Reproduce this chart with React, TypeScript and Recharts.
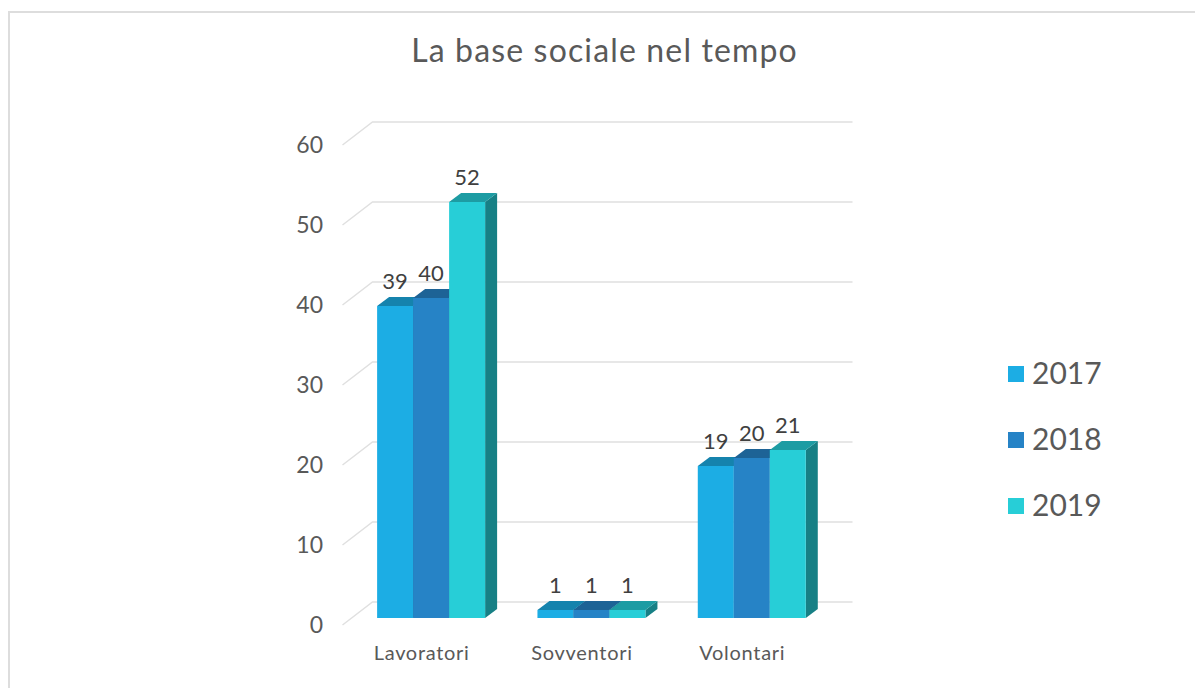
import { BarChart, Bar, XAxis, YAxis, CartesianGrid, Legend, LabelList } from 'recharts';

const categories = ['Lavoratori', 'Sovventori', 'Volontari'];
const values2017 = [39, 1, 19];
const values2018 = [40, 1, 20];
const values2019 = [52, 1, 21];
const yTicks = [0, 10, 20, 30, 40, 50, 60];

const data = categories.map((name, i) => ({
  name,
  '2017': values2017[i],
  '2018': values2018[i],
  '2019': values2019[i],
}));

const FONT = 'Lato, "Open Sans", sans-serif';
const DEPTH_X = 12;
const DEPTH_Y = 9;

const seriesStyles = [
  { key: '2017', front: '#1CADE4', top: '#1583AD', side: '#106A8C' },
  { key: '2018', front: '#2683C6', top: '#1D6396', side: '#164F78' },
  { key: '2019', front: '#27CED7', top: '#1D9CA3', side: '#178085' },
];

// box with a top and a right side, the way the spreadsheet draws 3D columns
function makeBox(style: { front: string; top: string; side: string }) {
  return function Box(props: any) {
    const { x, y, width, height } = props;
    const right = x + width;
    return (
      <g>
        <path
          d={`M${right},${y} L${right + DEPTH_X},${y - DEPTH_Y} L${right + DEPTH_X},${y + height - DEPTH_Y} L${right},${y + height} Z`}
          fill={style.side}
        />
        <path
          d={`M${x},${y} L${x + DEPTH_X},${y - DEPTH_Y} L${right + DEPTH_X},${y - DEPTH_Y} L${right},${y} Z`}
          fill={style.top}
        />
        <rect x={x} y={y} width={width} height={height} fill={style.front} />
      </g>
    );
  };
}

function GridLine(props: any) {
  const { x1, x2, y1 } = props;
  return (
    <path
      d={`M${x1 - 8},${y1 + 7} L${x1 + 22},${y1 - 16} L${x2 + 21},${y1 - 16}`}
      fill="none"
      stroke="#E0E0E0"
      strokeWidth={1.5}
    />
  );
}

function ValueLabel(props: any) {
  const { x, y, width, value } = props;
  return (
    <text x={x + width / 2} y={y - 17} textAnchor="middle" fontFamily={FONT} fontSize={22} fill="#404040">
      {value}
    </text>
  );
}

function YTick(props: any) {
  const { y, payload } = props;
  return (
    <text x={323} y={y + 15} textAnchor="end" fontFamily={FONT} fontSize={23} fill="#595959">
      {payload.value}
    </text>
  );
}

function XTick(props: any) {
  const { x, payload } = props;
  return (
    <text x={x - 9} y={660} textAnchor="middle" fontFamily={FONT} fontSize={20} letterSpacing={0.7} fill="#595959">
      {payload.value}
    </text>
  );
}

function LegendBox() {
  return (
    <div style={{ position: 'relative', width: 120, height: 170 }}>
      {seriesStyles.map((s, i) => (
        <div key={s.key} style={{ position: 'absolute', left: 0, top: i * 66, height: 40, display: 'flex', alignItems: 'center' }}>
          <span style={{ width: 16, height: 16, background: s.front, marginRight: 8 }} />
          <span style={{ fontFamily: FONT, fontSize: 30, color: '#595959', lineHeight: '36px', marginTop: -4 }}>{s.key}</span>
        </div>
      ))}
    </div>
  );
}

export default function App() {
  return (
    <div style={{ position: 'fixed', left: 0, top: 0, width: 1195, height: 688, background: '#fff', overflow: 'hidden' }}>
      <div
        style={{
          position: 'absolute',
          left: 8,
          top: 11,
          width: 1300,
          height: 800,
          border: '2px solid #DDDDDD',
        }}
      />
      <div
        style={{
          position: 'absolute',
          left: 0,
          top: 30,
          width: 1209,
          textAlign: 'center',
          fontFamily: FONT,
          fontSize: 32,
          letterSpacing: 1.15,
          color: '#595959',
        }}
      >
        La base sociale nel tempo
      </div>
      <BarChart
        width={1195}
        height={688}
        data={data}
        margin={{ top: 138, right: 243.5, bottom: 30, left: 290.5 }}
        barCategoryGap="16.6%"
        barGap={0}
        style={{ position: 'absolute', left: 0, top: 0 }}
      >
        <CartesianGrid vertical={false} horizontal={(p: any) => <GridLine key={p.key} {...p} />} />
        <XAxis dataKey="name" axisLine={false} tickLine={false} height={40} tick={<XTick />} interval={0} />
        <YAxis domain={[0, 60]} ticks={yTicks} width={60} axisLine={false} tickLine={false} tick={<YTick />} />
        <Legend
          layout="vertical"
          align="right"
          verticalAlign="top"
          width={120}
          content={<LegendBox />}
          wrapperStyle={{ left: 1008, top: 354, right: 'auto', bottom: 'auto' }}
        />
        {seriesStyles.map((s) => (
          <Bar key={s.key} dataKey={s.key} isAnimationActive={false} shape={makeBox(s)}>
            <LabelList dataKey={s.key} content={<ValueLabel />} />
          </Bar>
        ))}
      </BarChart>
    </div>
  );
}
